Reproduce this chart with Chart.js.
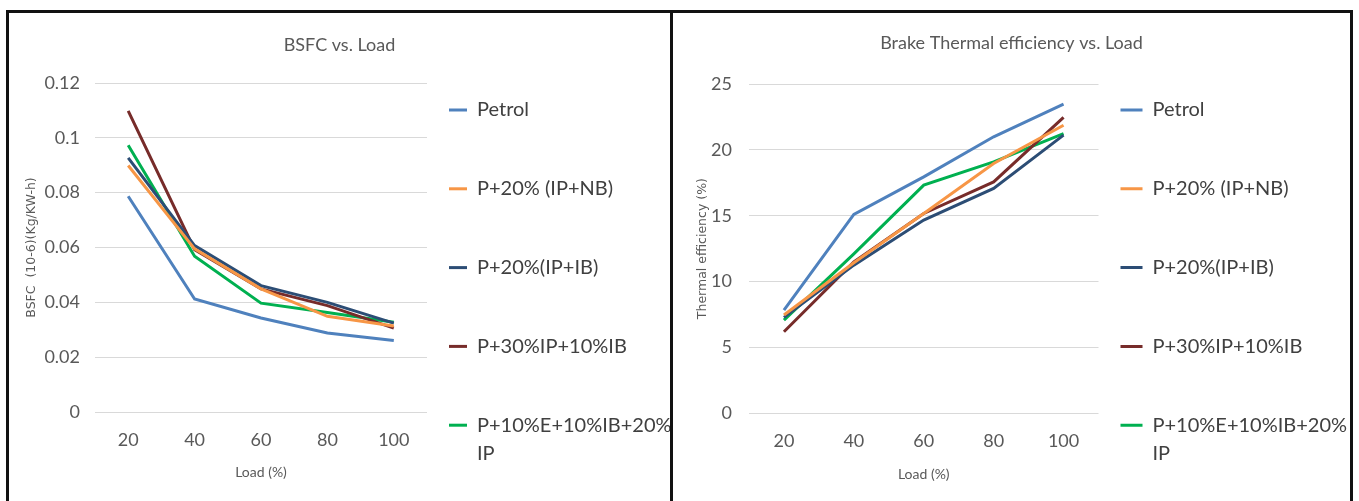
<!DOCTYPE html>
<html>
<head>
<meta charset="utf-8">
<title>BSFC and Brake Thermal efficiency vs. Load</title>
<script src="https://cdn.jsdelivr.net/npm/chart.js@4.4.0/dist/chart.umd.min.js"></script>
<style>
  html, body { margin: 0; padding: 0; background: #fff; }
  body { width: 1359px; height: 501px; overflow: hidden; position: relative; }
  #frame { position: absolute; left: 6px; top: 10px; width: 1341px; height: 510px; border: 3px solid #111; }
  #divider { position: absolute; left: 670px; top: 10px; width: 3px; height: 520px; background: #111; }
  .box { position: absolute; top: 13px; height: 488px; }
  #bsfcBox { left: 9px; width: 661px; }
  #bteBox { left: 673px; width: 677px; }
</style>
</head>
<body>
<div id="frame"></div>
<div id="divider"></div>
<div class="box" id="bsfcBox"><canvas id="bsfcChart"></canvas></div>
<div class="box" id="bteBox"><canvas id="bteChart"></canvas></div>
<script>
// load steps on the x axis
var loads = ['20', '40', '60', '80', '100'];
var seriesNames = ['Petrol', 'P+20% (IP+NB)', 'P+20%(IP+IB)', 'P+30%IP+10%IB', 'P+10%E+10%IB+20% IP'];
var seriesColors = ['#4f81bd', '#f79646', '#2c4d75', '#772c2a', '#00b050'];

// BSFC (10-6)(Kg/KW-h)
var bsfcPetrol  = [0.0787, 0.0412, 0.0343, 0.0288, 0.0261];
var bsfcIpNb    = [0.0899, 0.0595, 0.0449, 0.0349, 0.0314];
var bsfcIpIb    = [0.0927, 0.0607, 0.0461, 0.0400, 0.0324];
var bsfcIp30    = [0.1098, 0.0592, 0.0449, 0.0388, 0.0306];
var bsfcEthanol = [0.0973, 0.0568, 0.0397, 0.0363, 0.0327];

// Brake thermal efficiency (%)
var btePetrol  = [7.84, 15.1, 17.95, 20.99, 23.47];
var bteIpNb    = [7.46, 11.43, 15.17, 18.97, 21.87];
var bteIpIb    = [7.28, 11.25, 14.67, 17.07, 21.12];
var bteIp30    = [6.19, 11.5, 15.17, 17.57, 22.46];
var bteEthanol = [7.08, 12.1, 17.32, 19.09, 21.24];

var bsfcTicks = [0, 0.02, 0.04, 0.06, 0.08, 0.1, 0.12];
var bteTicks = [0, 5, 10, 15, 20, 25];

Chart.defaults.font.family = 'Lato, sans-serif';
var grey = '#595959';

// long legend names wrap onto a second line like in Excel
function splitLegend(text) {
  if (text.length > 16) {
    var cut = text.lastIndexOf(' ');
    return [text.slice(0, cut), text.slice(cut + 1)];
  }
  return [text, ''];
}

function lineChart(id, title, yTitle, series, ticks, geo) {
  var datasets = series.map(function (values, i) {
    return {
      label: seriesNames[i],
      data: values,
      borderColor: seriesColors[i],
      backgroundColor: seriesColors[i],
      borderWidth: 3,
      pointRadius: 0,
      tension: 0,
      fill: false
    };
  });

  return new Chart(document.getElementById(id), {
    type: 'line',
    data: { labels: loads, datasets: datasets },
    options: {
      responsive: true,
      maintainAspectRatio: false,
      animation: false,
      plugins: {
        title: {
          display: true,
          text: title,
          color: grey,
          font: { size: 18, weight: 'normal' },
          padding: { top: geo.titleTop, bottom: geo.titleBottom }
        },
        legend: {
          position: 'right',
          align: 'start',
          maxWidth: geo.legendWidth,
          title: { display: true, text: '', font: { size: 10, lineHeight: 1 }, padding: { top: geo.legendTop, bottom: 0 } },
          labels: {
            color: '#404040',
            font: { size: 20, lineHeight: 1.42 },
            usePointStyle: true,
            pointStyle: 'line',
            pointStyleWidth: geo.swatch,
            padding: 22,
            generateLabels: function (chart) {
              var items = Chart.defaults.plugins.legend.labels.generateLabels(chart);
              items.forEach(function (item) { item.text = splitLegend(item.text); });
              return items;
            }
          }
        },
        tooltip: { enabled: false }
      },
      scales: {
        x: {
          offset: true,
          grid: { display: false, drawTicks: false },
          border: { display: false },
          ticks: { color: grey, font: { size: 18 }, padding: 17 },
          title: { display: true, text: 'Load (%)', color: grey, font: { size: 14 }, padding: { top: 0, bottom: geo.xTitleBottom } },
          afterFit: function (scale) { scale.height = geo.xHeight; }
        },
        y: {
          min: ticks[0],
          max: ticks[ticks.length - 1],
          grid: { color: '#d9d9d9', lineWidth: 1, drawTicks: false },
          border: { display: false },
          afterBuildTicks: function (scale) {
            scale.ticks = ticks.map(function (v) { return { value: v }; });
          },
          ticks: {
            color: grey,
            font: { size: 18 },
            padding: geo.yTickPad,
            callback: function (v) { return String(v); }
          },
          title: { display: true, text: yTitle, color: grey, font: { family: 'DejaVu Sans', size: 12.5 }, padding: { top: geo.yTitleLeft, bottom: 0 } },
          afterFit: function (scale) { scale.width = geo.yWidth; }
        }
      }
    }
  });
}

lineChart('bsfcChart', 'BSFC vs. Load', 'BSFC  (10-6)(Kg/KW-h)',
  [bsfcPetrol, bsfcIpNb, bsfcIpIb, bsfcIp30, bsfcEthanol], bsfcTicks,
  { titleTop: 21, titleBottom: 27.4, legendWidth: 243, legendTop: 55, swatch: 18, xHeight: 89, xTitleBottom: 20,
    yWidth: 86, yTickPad: 15, yTitleLeft: 15.5 });

lineChart('bteChart', 'Brake Thermal efficiency vs. Load', 'Thermal efficiency (%)',
  [btePetrol, bteIpNb, bteIpIb, bteIp30, bteEthanol], bteTicks,
  { titleTop: 19.5, titleBottom: 29.9, legendWidth: 251.5, legendTop: 55, swatch: 22, xHeight: 87.7, xTitleBottom: 18,
    yWidth: 76, yTickPad: 17, yTitleLeft: 22 });
</script>
</body>
</html>
